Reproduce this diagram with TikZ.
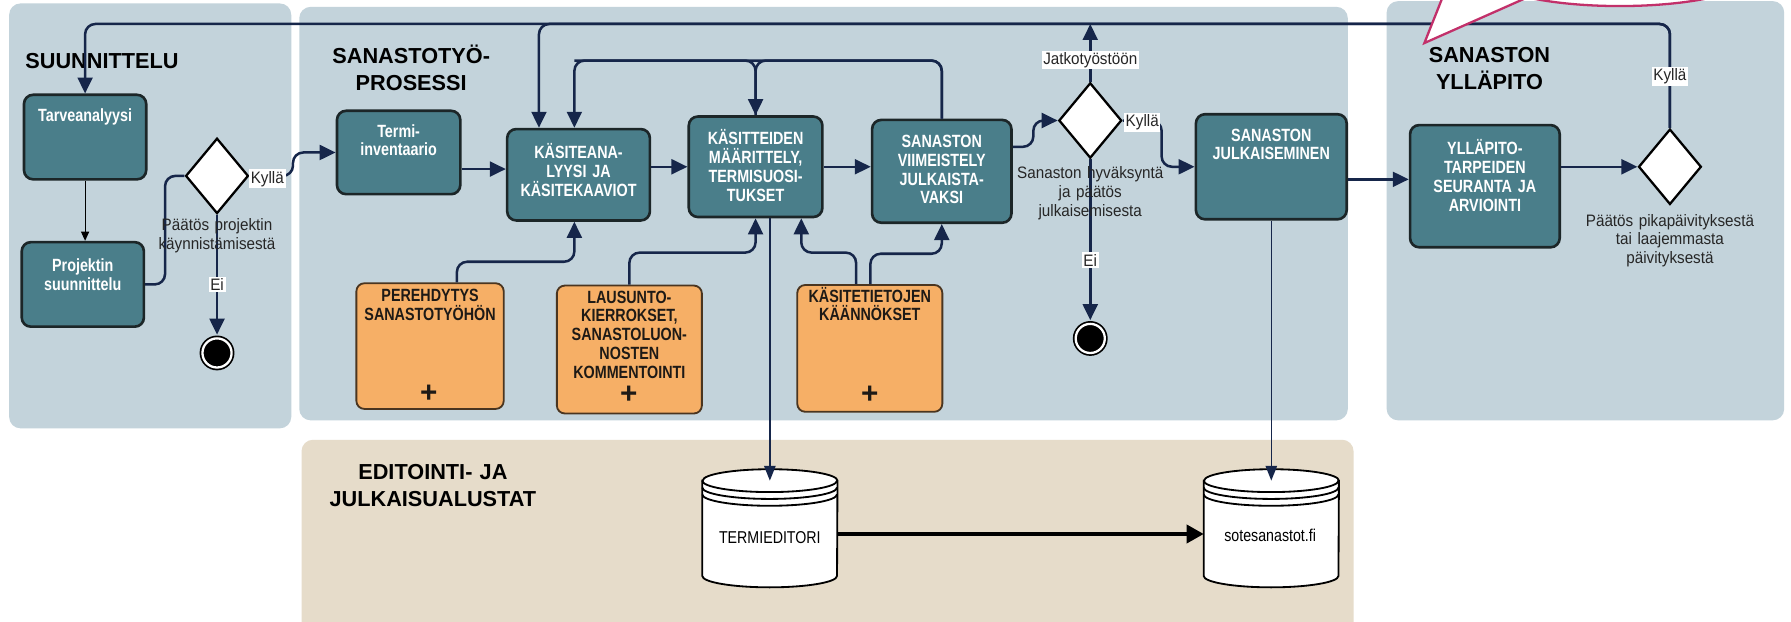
\documentclass[tikz,border=0pt]{standalone}
\usepackage{fontspec}
\setmainfont{Liberation Sans}
\newfontfamily\narrowf[FakeStretch=0.83]{Liberation Sans}
\newfontfamily\boxf[FakeStretch=0.81]{Liberation Sans}
\newfontfamily\labf[FakeStretch=0.92]{Liberation Sans}
\usetikzlibrary{arrows.meta,shapes.geometric,calc}
\definecolor{panelc}{HTML}{C3D3DB}
\definecolor{beigec}{HTML}{E6DCCA}
\definecolor{tealc}{HTML}{4A7E8A}
\definecolor{boxline}{HTML}{1C2628}
\definecolor{orangec}{HTML}{F6AF66}
\definecolor{oline}{HTML}{4A3520}
\definecolor{otextc}{HTML}{1E1A16}
\definecolor{navyc}{HTML}{16264A}
\definecolor{labc}{HTML}{262626}
\definecolor{pinkc}{HTML}{C2306A}
\tikzset{
 panel/.style={fill=panelc, rounded corners=10pt},
 tbox/.style={draw=boxline, line width=2.3pt, fill=tealc, rounded corners=8pt, inner sep=0pt},
 obox/.style={draw=oline, line width=1.6pt, fill=orangec, rounded corners=7pt, inner sep=0pt},
 ttext/.style={text=white, font=\boxf\bfseries\fontsize{15.5}{16.5}\selectfont, align=center, text width=130pt, anchor=base, inner sep=0pt},
 otext/.style={text=otextc, font=\boxf\bfseries\fontsize{15.5}{16.5}\selectfont, align=center, text width=130pt, anchor=base, inner sep=0pt},
 plus/.style={text=otextc, font=\bfseries\fontsize{26}{26}\selectfont, inner sep=0pt},
 ttl/.style={font=\bfseries\fontsize{19}{23.5}\selectfont, align=center, text width=220pt, anchor=base, inner sep=0pt, text=black},
 lab/.style={font=\labf\fontsize{14.5}{16}\selectfont, text=labc, fill=white, inner sep=1.5pt},
 note/.style={font=\labf\fontsize{14.5}{16.4}\selectfont, text=labc, align=center, text width=170pt, anchor=base, inner sep=0pt},
 dbtext/.style={font=\narrowf\fontsize{15}{16}\selectfont, text=black, inner sep=0pt},
 dia/.style={diamond, draw=black, line width=2pt, fill=white, minimum width=55pt, minimum height=66pt, inner sep=0pt},
 endc/.style={circle, draw=black, line width=1.5pt, double=white, double distance=2pt, fill=black, minimum size=25.5pt, inner sep=0pt},
 dbbox/.style={rectangle, minimum width=118pt, minimum height=103pt, inner sep=0pt},
 dbline/.style={draw=black, line width=1.6pt},
 conn/.style={draw=navyc, line width=2.2pt, rounded corners=9pt, -{Triangle[length=14pt,width=13pt]}},
 plainconn/.style={draw=navyc, line width=2.2pt, rounded corners=9pt},
 thinconn/.style={draw=navyc, line width=1.4pt, -{Triangle[length=13pt,width=10pt]}},
 thinblack/.style={draw=black, line width=1pt, -{Triangle[length=8pt,width=7pt]}},
 thickblack/.style={draw=black, line width=3pt, -{Triangle[length=15pt,width=16pt]}},
}
\begin{document}
\begin{tikzpicture}[x=1pt,y=-1pt]
\useasboundingbox (0,0) rectangle (1568,543.7);
\clip (0,0) rectangle (1568,543.7);
\fill[white] (0,0) rectangle (1568,543.7);
% panels
\fill[panel] (8,3) rectangle (255,375);
\fill[panel] (262,6) rectangle (1180,368);
\fill[panel] (1214,1) rectangle (1562,368);
\fill[panel, fill=beigec] (264,385) rectangle (1185,556);
% titles
\node[font=\bfseries\fontsize{19}{23.5}\selectfont, anchor=base west, inner sep=0pt] (t1) at (22,60) {SUUNNITTELU};
\node[ttl] (t2) at (360,56) {SANASTOTYÖ-\\PROSESSI};
\node[ttl] (t3) at (1304,55) {SANASTON\\YLLÄPITO};
\node[ttl] (t4) at (379,420) {EDITOINTI- JA\\JULKAISUALUSTAT};
% teal boxes
\node[tbox, minimum width=107pt, minimum height=74pt] (tarv) at (74.5,120) {};
\node[tbox, minimum width=107pt, minimum height=74pt] (proj) at (72.5,249) {};
\node[tbox, minimum width=108pt, minimum height=73pt] (termi) at (349,133.5) {};
\node[tbox, minimum width=125pt, minimum height=80pt] (kas) at (506.5,153) {};
\node[tbox, minimum width=117pt, minimum height=88pt] (maar) at (661.5,146) {};
\node[tbox, minimum width=122pt, minimum height=90pt] (viim) at (824.5,150) {};
\node[tbox, minimum width=132pt, minimum height=92pt] (julk) at (1113,146) {};
\node[tbox, minimum width=131pt, minimum height=107pt] (yll) at (1300,163) {};
% orange boxes
\node[obox, minimum width=129pt, minimum height=110pt] (pereh) at (376.5,303) {};
\node[obox, minimum width=127pt, minimum height=112pt] (laus) at (551,306) {};
\node[obox, minimum width=127pt, minimum height=111pt] (kasitet) at (761.5,305) {};
% gateways and ends
\node[dia] (d1) at (190,154) {};
\node[dia] (d2) at (954.5,105.5) {};
\node[dia] (d3) at (1462,146) {};
\node[endc] (end1) at (190,309) {};
\node[endc] (end2) at (954.5,296.3) {};
% databases
\node[dbbox] (termied) at (674,462.5) {};
\node[dbbox] (sote) at (1113,462.5) {};
\foreach \d in {termied,sote}{
 \draw[dbline, fill=white] ($(\d.north west)+(0,10)$) -- ($(\d.south west)+(0,-10)$)
   arc[start angle=180,end angle=360,x radius=59pt,y radius=10pt]
   -- ($(\d.north east)+(0,10)$)
   arc[start angle=0,end angle=180,x radius=59pt,y radius=10pt] -- cycle;
 \draw[dbline] ($(\d.north west)+(0,10)$) arc[start angle=180,end angle=360,x radius=59pt,y radius=10pt];
 \draw[dbline] ($(\d.north west)+(0,16)$) arc[start angle=180,end angle=360,x radius=59pt,y radius=10pt];
 \draw[dbline] ($(\d.north west)+(0,22)$) arc[start angle=180,end angle=360,x radius=59pt,y radius=10pt];
}
\node[dbtext] (termied-t) at (674,470.6) {TERMIEDITORI};
\node[dbtext] (sote-t) at (1112,469) {sotesanastot.fi};
% coordinates
\coordinate (tl) at (74.5,21);
\coordinate (lp) at (0,53);
\coordinate (kasA) at ($(kas.north west)+(29,0)$);
\coordinate (kasB) at ($(kas.north west)+(60,0)$);
\coordinate (kasBb) at (kas.south -| kasB);
\coordinate (perehT) at ($(pereh.north)+(23.5,0)$);
\coordinate (maarR) at ($(maar.south)+(40,0)$);
\coordinate (kL) at ($(kasitet.north)+(-12,0)$);
\coordinate (kR) at ($(kasitet.north)+(0.5,0)$);
\coordinate (tdTop) at ($(termied.north)+(0,10)$);
\coordinate (sdTop) at ($(sote.north)+(0,10)$);
\coordinate (a1) at ($(termi.east)+(0,14.5)$);
\coordinate (a2) at ($(kas.east)+(0,-7)$);
\coordinate (a3) at ($(julk.east)+(0,11)$);
\coordinate (a4) at ($(yll.east)+(0,-17)$);
\coordinate (a5) at ($(termied.east)+(0,5)$);
% connectors
\draw[thinblack] (tarv.south) -- (tarv.south |- proj.north);
\draw[plainconn] (proj.east) -| ($(d1.west)+(-17,0)$) -- (d1.west);
\draw[conn] (d1.east) -- ++(38,0) |- (termi.west);
\draw[conn, shorten >=2.5pt] (d1.south) -- (end1.north);
\draw[conn] (a1) -- (a1 -| kas.west);
\draw[conn] (a2) -- (a2 -| maar.west);
\draw[conn] (maar.east) -- (maar.east -| viim.west);
\draw[conn] ($(viim.east)+(0,-21.5)$) -- ++(18,0) |- (d2.west);
\draw[conn] (d2.north) -- (d2.north |- tl);
\draw[conn] (d2.east) -- ++(34,0) |- (julk.west);
\draw[conn, shorten >=2.5pt] (d2.south) -- (end2.north);
\draw[conn] (a3) -- (a3 -| yll.west);
\draw[conn] (a4) -- (a4 -| d3.west);
\draw[conn] (d3.north) |- (tl) -- (tarv.north);
\draw[conn] (d3.north) |- (kasA |- tl) -- (kasA);
\draw[conn] (viim.north) |- (kasB |- lp) -- (kasB);
\draw[conn] (viim.north) |- (maar.north |- lp) -- (maar.north);
\draw[plainconn] (kasB |- lp) -| (maar.north);
\draw[conn] (perehT) |- ($(kasBb)+(0,35)$) -- (kasBb);
\draw[conn] (laus.north) |- ($(maar.south)+(0,30)$) -- (maar.south);
\draw[conn] (kL) |- ($(maarR)+(0,30)$) -- (maarR);
\draw[conn] (kR) |- ($(viim.south)+(0,26)$) -- (viim.south);
\draw[thinconn] (maar.south -| tdTop) -- (tdTop);
\draw[thinconn] (julk.south -| sdTop) -- (sdTop);
\draw[thickblack] (a5) -- (a5 -| sote.west);
% box texts
\node[ttext] (tarv-t) at (74.5,106) {Tarveanalyysi};
\node[ttext] (proj-t) at (72.5,237.5) {Projektin\\suunnittelu};
\node[ttext] (termi-t) at (349,120) {Termi-\\inventaario};
\node[ttext] (kas-t) at (506.5,138.7) {KÄSITEANA-\\LYYSI JA\\KÄSITEKAAVIOT};
\node[ttext] (maar-t) at (661.5,126.7) {KÄSITTEIDEN\\MÄÄRITTELY,\\TERMISUOSI-\\TUKSET};
\node[ttext] (viim-t) at (824.5,129) {SANASTON\\VIIMEISTELY\\JULKAISTA-\\VAKSI};
\node[ttext] (julk-t) at (1113,123.5) {SANASTON\\JULKAISEMINEN};
\node[ttext] (yll-t) at (1300,135.5) {YLLÄPITO-\\TARPEIDEN\\SEURANTA JA\\ARVIOINTI};
\node[otext] (pereh-t) at (376.5,264) {PEREHDYTYS\\SANASTOTYÖHÖN};
\node[otext] (laus-t) at (551,265.3) {LAUSUNTO-\\KIERROKSET,\\SANASTOLUON-\\NOSTEN\\KOMMENTOINTI};
\node[otext] (kasitet-t) at (761.5,264.5) {KÄSITETIETOJEN\\KÄÄNNÖKSET};
\node[plus] (pereh-p) at (375.5,344.4) {+};
\node[plus] (laus-p) at (550.5,346) {+};
\node[plus] (kasitet-p) at (761.5,346) {+};
% notes and labels
\node[note] (n1) at (190,202) {Päätös projektin\\käynnistämisestä};
\node[note] (n2) at (954.5,156.5) {Sanaston hyväksyntä\\ja päätös\\julkaisemisesta};
\node[note] (n3) at (1462,198) {Päätös pikapäivityksestä\\tai laajemmasta\\päivityksestä};
\node[lab] (l1) at (234,156.5) {Kyllä};
\node[lab] (l2) at (190,249) {Ei};
\node[lab] (l3) at (954.5,52.5) {Jatkotyöstöön};
\node[lab] (l4) at (1000,107) {Kyllä};
\node[lab] (l5) at (954.5,227.7) {Ei};
\node[lab] (l6) at (1462,67) {Kyllä};
% callout
\fill[white] (1263.2,-3) -- (1247,37.7) -- (1338.8,-3) -- cycle;
\draw[pinkc, line width=2pt] (1263.2,-3) -- (1247,37.7) -- (1338.8,-3);
\draw[pinkc, line width=2pt, fill=white] (1418,-24.7) ellipse[x radius=121.6pt, y radius=30pt];
\end{tikzpicture}
\end{document}
